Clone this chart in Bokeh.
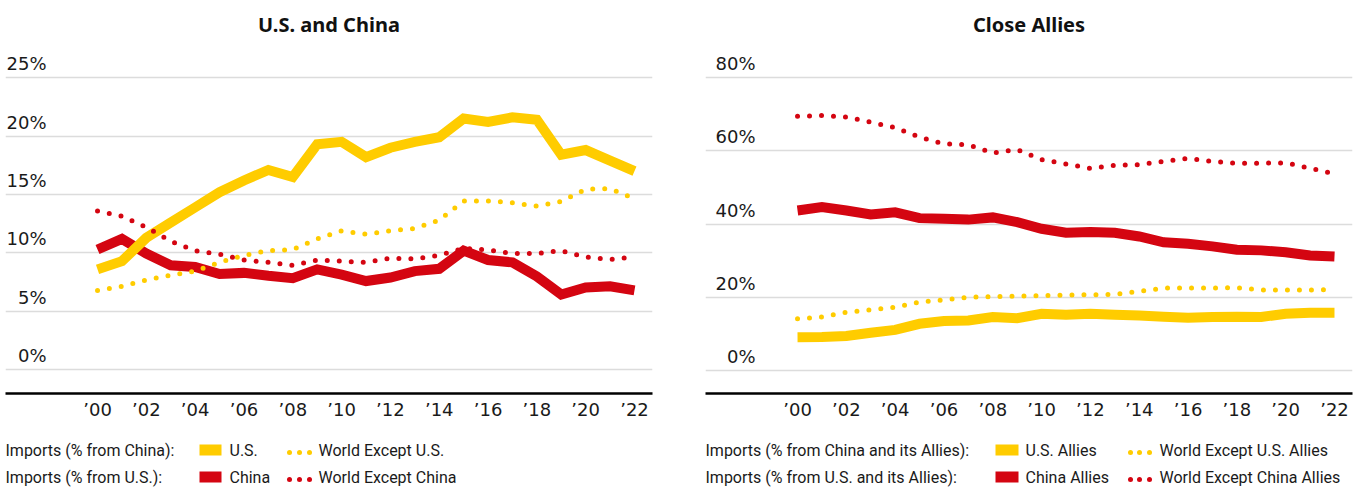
from bokeh.plotting import figure
from bokeh.models import Range1d, FixedTicker, Label, Grid
from bokeh.layouts import column, row
from bokeh.embed import file_html
from bokeh.resources import INLINE
from bokeh.core.properties import value

# ---------------- data ----------------
years = list(range(2000, 2023))

# U.S. and China panel
us_from_china = [8.6, 9.3, 11.3, 12.6, 13.9, 15.2, 16.2, 17.1, 16.5, 19.3, 19.5, 18.2,
                 19.0, 19.5, 19.9, 21.5, 21.2, 21.6, 21.4, 18.4, 18.8, 17.9, 17.0]
world_ex_us_from_china = [6.8, 7.15, 7.7, 8.1, 8.45, 9.2, 9.8, 10.2, 10.3, 11.2, 11.9, 11.6,
                          11.9, 12.1, 12.8, 14.45, 14.45, 14.3, 14.0, 14.4, 15.45, 15.5, 14.65]
china_from_us = [10.3, 11.2, 9.95, 8.95, 8.8, 8.2, 8.3, 8.05, 7.85, 8.6, 8.15, 7.6,
                 7.9, 8.45, 8.65, 10.2, 9.4, 9.2, 8.0, 6.45, 7.05, 7.15, 6.8]
world_ex_china_from_us = [13.6, 13.15, 12.2, 11.0, 10.2, 9.9, 9.4, 9.2, 8.95, 9.4, 9.3, 9.2,
                          9.55, 9.5, 9.8, 10.4, 10.25, 9.95, 9.95, 10.2, 9.65, 9.45, 9.65]

# Close Allies panel
us_allies = [9.1, 9.15, 9.4, 10.3, 11.1, 12.75, 13.5, 13.65, 14.6, 14.3, 15.5, 15.2,
             15.5, 15.2, 15.0, 14.7, 14.4, 14.6, 14.7, 14.6, 15.5, 15.8, 15.8]
world_ex_us_allies = [14.1, 14.6, 15.9, 16.6, 17.3, 18.65, 19.3, 20.0, 20.2, 20.3, 20.4, 20.6,
                      20.7, 20.75, 21.6, 22.5, 22.5, 22.5, 22.6, 22.0, 22.0, 22.0, 22.1]
china_allies = [43.7, 44.6, 43.7, 42.6, 43.2, 41.6, 41.4, 41.2, 41.8, 40.5, 38.7, 37.6,
                37.8, 37.6, 36.6, 35.0, 34.6, 33.9, 33.0, 32.8, 32.3, 31.4, 31.1]
world_ex_china_allies = [69.4, 69.6, 69.2, 67.8, 66.3, 63.7, 61.9, 61.6, 59.4, 60.3, 57.6, 56.4,
                         55.2, 56.0, 56.2, 57.1, 57.9, 57.1, 56.6, 56.6, 56.7, 55.2, 53.7]

xtick_years = list(range(2000, 2023, 2))
xtick_labels = ["\u201900", "\u201902", "\u201904", "\u201906", "\u201908", "\u201910",
                "\u201912", "\u201914", "\u201916", "\u201918", "\u201920", "\u201922"]

left_yticks = [0, 5, 10, 15, 20, 25]
left_ylabels = ["0%", "5%", "10%", "15%", "20%", "25%"]
right_yticks = [0, 20, 40, 60, 80]
right_ylabels = ["0%", "20%", "40%", "60%", "80%"]

left_title = "U.S. and China"
right_title = "Close Allies"

left_headers = ["Imports (% from China):", "Imports (% from U.S.):"]
left_items = [["U.S.", "World Except U.S."], ["China", "World Except China"]]
right_headers = ["Imports (% from China and its Allies):", "Imports (% from U.S. and its Allies):"]
right_items = [["U.S. Allies", "World Except U.S. Allies"], ["China Allies", "World Except China Allies"]]

# ---------------- style ----------------
YELLOW = "#FFCC00"
RED = "#D40511"
GRID = "#dcdcdc"
TXT = "#1a1a1a"
AXIS_FONT = "DejaVu Sans"
MAIN_H = 430
LEG_H = 61
PX_PER_YEAR = 24.4
FRAME_TOP = 45
FRAME_BOTTOM = 393


def make_panel(title, width, mbl, mbr, x_start, x_end, y_start, y_end,
               yticks, ylabels, label_dx_px, series):
    p = figure(width=width, height=MAIN_H,
               x_range=Range1d(x_start, x_end), y_range=Range1d(y_start, y_end),
               output_backend="svg", toolbar_location=None, y_axis_location=None,
               min_border_left=mbl, min_border_right=mbr,
               min_border_top=FRAME_TOP, min_border_bottom=MAIN_H - FRAME_BOTTOM)
    p.outline_line_color = None
    p.background_fill_color = "white"
    p.border_fill_color = "white"
    p.xgrid.visible = False
    p.ygrid.visible = False
    p.add_layout(Grid(dimension=1, ticker=FixedTicker(ticks=yticks),
                      grid_line_color=GRID, grid_line_width=1.5))

    p.title.text = title
    p.title.align = "center"
    p.title.vertical_align = "top"
    p.title.text_font = "Noto Sans"
    p.title.text_font_style = "bold"
    p.title.text_font_size = "20px"
    p.title.text_color = "#111111"
    p.title.standoff = 12

    ax = p.xaxis[0]
    ax.ticker = FixedTicker(ticks=xtick_years)
    ax.major_label_overrides = {y: t for y, t in zip(xtick_years, xtick_labels)}
    ax.axis_line_color = "black"
    ax.axis_line_width = 2.5
    ax.major_tick_line_color = None
    ax.minor_tick_line_color = None
    ax.major_tick_in = 0
    ax.major_tick_out = 0
    ax.major_label_standoff = 5
    ax.major_label_text_font = AXIS_FONT
    ax.major_label_text_font_size = "18px"
    ax.major_label_text_color = TXT

    lab_x = x_start + label_dx_px / PX_PER_YEAR
    for t, s in zip(yticks, ylabels):
        p.add_layout(Label(x=lab_x, y=t, text=s, text_align="right",
                           text_baseline="alphabetic", y_offset=14,
                           text_font=AXIS_FONT, text_font_size="18px",
                           text_color=TXT))

    for vals, color, dotted in series:
        if dotted:
            p.line(years, vals, line_color=color, line_width=5,
                   line_dash="0 12", line_cap="round")
        else:
            p.line(years, vals, line_color=color, line_width=10, line_join="miter")
    return p


def make_legend(width, headers, items, header_x, sw_x0, sw_x1, lab1_x, dots_x, lab2_x):
    lg = figure(width=width, height=LEG_H, x_range=Range1d(0, width),
                y_range=Range1d(LEG_H, 0), output_backend="svg",
                toolbar_location=None, x_axis_location=None, y_axis_location=None,
                min_border=0)
    lg.outline_line_color = None
    lg.xgrid.visible = False
    lg.ygrid.visible = False
    sw_top = [14, 41]
    text_base = [20, 47]
    dot_y = [22, 49]
    colors = [YELLOW, RED]
    for r in range(2):
        lg.quad(left=[sw_x0], right=[sw_x1], top=[sw_top[r]], bottom=[sw_top[r] + 11],
                fill_color=colors[r], line_color=None)
        lg.scatter(x=dots_x, y=[dot_y[r]] * len(dots_x), size=5,
                   fill_color=colors[r], line_color=None)
        lg.text(x=[header_x, lab1_x, lab2_x], y=[text_base[r]] * 3,
                text=[headers[r], items[r][0], items[r][1]],
                text_font=value("Roboto"), text_font_size="16px",
                text_baseline="alphabetic", text_align="left", text_color=TXT)
    return lg


# left panel: frame page x 5..652
left_x_start = 2000 - (97 - 5) / PX_PER_YEAR
left_x_end = 2022 + (652 - 634) / PX_PER_YEAR
p1 = make_panel(left_title, 680, 5, 28, left_x_start, left_x_end,
                -(FRAME_BOTTOM - 369.5) / 11.68, 25 + (77 - FRAME_TOP) / 11.68,
                left_yticks, left_ylabels, 41,
                [(china_from_us, RED, False), (us_from_china, YELLOW, False),
                 (world_ex_us_from_china, YELLOW, True), (world_ex_china_from_us, RED, True)])

# right panel: frame page x 705..1352
right_x_start = 2000 - (797 - 705) / PX_PER_YEAR
right_x_end = 2022 + (1352 - 1334) / PX_PER_YEAR
p2 = make_panel(right_title, 679, 25, 7, right_x_start, right_x_end,
                -(FRAME_BOTTOM - 370) / 3.6625, 80 + (77 - FRAME_TOP) / 3.6625,
                right_yticks, right_ylabels, 50,
                [(china_allies, RED, False), (us_allies, YELLOW, False),
                 (world_ex_us_allies, YELLOW, True), (world_ex_china_allies, RED, True)])

l1 = make_legend(680, left_headers, left_items, 5, 199, 221, 229, [289, 299, 309], 318)
l2 = make_legend(679, right_headers, right_items, 25, 315, 338, 345, [450, 459, 469], 479)

layout = column(row(p1, p2), row(l1, l2))
open("out.html", "w").write(file_html(layout, INLINE))
